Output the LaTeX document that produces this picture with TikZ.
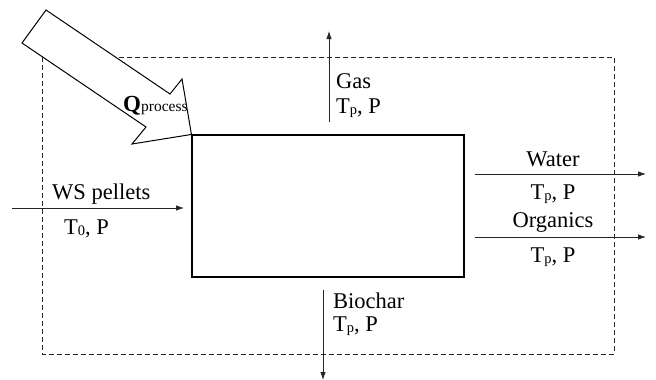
\documentclass[tikz,border=0pt]{standalone}
\usepackage{fontspec}
\setmainfont{Liberation Serif}
\usetikzlibrary{arrows.meta}
\newcommand{\sub}[1]{\raisebox{-1.5pt}{\fontsize{14.5}{14}\selectfont #1}}
\tikzset{
  lbl/.style={font=\fontsize{22.5}{24}\selectfont, inner sep=0pt},
  flow/.style={draw=black!85, line width=0.8pt, -{Latex[length=8pt,width=5.5pt]}},
  boundary/.style={draw=black!85, line width=0.9pt, dash pattern=on 5pt off 3pt},
}
\begin{document}
\begin{tikzpicture}[x=1pt,y=-1pt]
\useasboundingbox (0,0) rectangle (656,380);
% system boundary
\draw[boundary] (42,57) rectangle (614,354);
% reactor
\node[draw, line width=1.1pt, minimum width=272pt, minimum height=142pt, inner sep=0pt] (reactor) at (328,206) {};
% heat arrow
\coordinate (tip) at (reactor.north west);
\draw[line width=1pt, fill=white] (46,10) -- (170,94) -- (182,79) -- (tip) -- (132,144) -- (146,127) -- (22,43) -- cycle;
\node[lbl, anchor=base west] (q) at (123,111) {\fontsize{23}{24}\selectfont\textbf{Q}\fontsize{15.5}{16}\selectfont process};
% WS pellets
\coordinate (wsin) at (12,208);
\coordinate (wsout) at (184,208);
\draw[flow] (wsin) -- (wsout);
\node[lbl, anchor=base west] (ws) at (52,199) {WS pellets};
\node[lbl, anchor=base west] (wst) at (64,234) {T\sub{0}, P};
% Gas
\coordinate (gasin) at (329,122);
\coordinate (gasout) at (329,31);
\draw[flow] (gasin) -- (gasout);
\node[lbl, anchor=base west] (gas) at (336,88) {Gas};
\node[lbl, anchor=base west] (gast) at (336,113) {T\sub{p}, P};
% Water
\coordinate (win) at (475,174);
\coordinate (wout) at (646,174);
\draw[flow] (win) -- (wout);
\node[lbl, anchor=base] (water) at (553,166) {Water};
\node[lbl, anchor=base] (wt) at (553,199) {T\sub{p}, P};
% Organics
\coordinate (oin) at (475,237);
\coordinate (oout) at (646,237);
\draw[flow] (oin) -- (oout);
\node[lbl, anchor=base] (org) at (553,227) {Organics};
\node[lbl, anchor=base] (ot) at (553,262) {T\sub{p}, P};
% Biochar
\coordinate (bin) at (323,290);
\coordinate (bout) at (323,380);
\draw[flow] (bin) -- (bout);
\node[lbl, anchor=base west] (bio) at (333,308) {Biochar};
\node[lbl, anchor=base west] (bt) at (333,331) {T\sub{p}, P};
\end{tikzpicture}
\end{document}
